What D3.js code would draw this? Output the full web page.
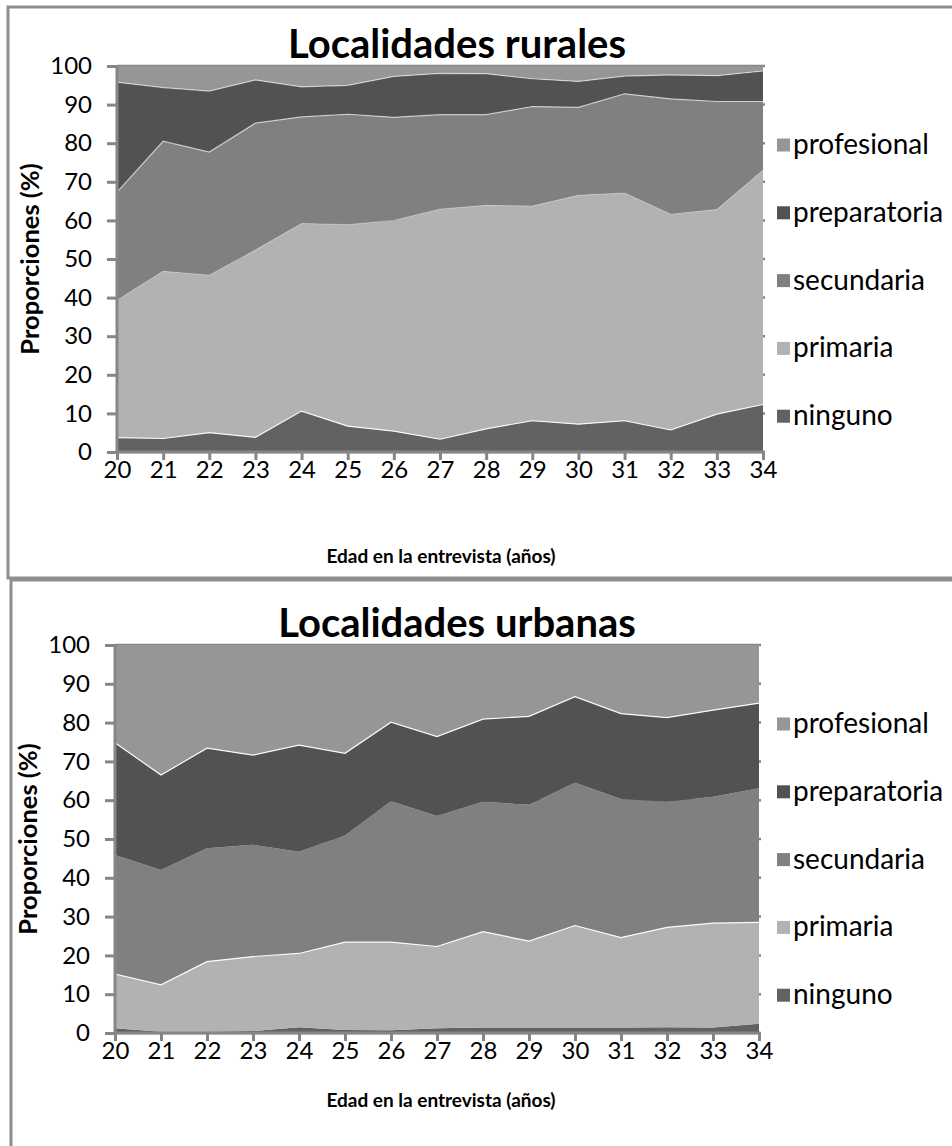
<!DOCTYPE html>
<html>
<head>
<meta charset="utf-8">
<script src="https://cdn.jsdelivr.net/npm/d3@7"></script>
<style>
  body { margin: 0; background: #fff; }
  svg { display: block; }
  text { font-family: Lato, "Open Sans", sans-serif; fill: #000; }
</style>
</head>
<body>
<svg id="chart" width="952" height="1146"></svg>
<script>
// Age at interview (years)
const ages = [20, 21, 22, 23, 24, 25, 26, 27, 28, 29, 30, 31, 32, 33, 34];
const yTicks = [0, 10, 20, 30, 40, 50, 60, 70, 80, 90, 100];

// Education levels, stacked bottom to top
const levels = ["ninguno", "primaria", "secundaria", "preparatoria", "profesional"];
const legendOrder = ["profesional", "preparatoria", "secundaria", "primaria", "ninguno"];

// Rural localities, % by level
const ruralNinguno      = [3.7, 3.5, 5.0, 3.8, 10.6, 6.7, 5.4, 3.3, 6.0, 8.1, 7.2, 8.1, 5.7, 9.8, 12.3];
const ruralPrimaria     = [35.6, 43.3, 40.8, 48.5, 48.6, 52.2, 54.6, 59.6, 57.9, 55.6, 59.3, 59.0, 55.9, 53.0, 60.7];
const ruralSecundaria   = [28.0, 33.7, 31.9, 32.9, 27.6, 28.6, 26.7, 24.5, 23.5, 25.8, 22.8, 25.7, 29.9, 28.0, 17.8];
const ruralPreparatoria = [28.5, 13.9, 15.8, 11.2, 7.8, 7.5, 10.6, 10.7, 10.6, 7.2, 6.7, 4.6, 6.2, 6.7, 7.9];
const ruralProfesional  = [4.2, 5.6, 6.5, 3.6, 5.4, 5.0, 2.7, 1.9, 2.0, 3.3, 4.0, 2.6, 2.3, 2.5, 1.3];

// Urban localities, % by level
const urbanNinguno      = [1.2, 0.3, 0.3, 0.5, 1.5, 0.8, 0.7, 1.2, 1.4, 1.4, 1.4, 1.4, 1.5, 1.4, 2.4];
const urbanPrimaria     = [14.0, 12.1, 18.1, 19.2, 19.0, 22.6, 22.7, 21.1, 24.7, 22.3, 26.3, 23.2, 25.7, 26.9, 26.1];
const urbanSecundaria   = [30.7, 29.6, 29.2, 28.8, 26.2, 27.5, 36.3, 33.6, 33.5, 35.1, 36.8, 35.7, 32.4, 32.6, 34.6];
const urbanPreparatoria = [28.9, 24.5, 25.8, 23.1, 27.5, 21.2, 20.4, 20.5, 21.3, 22.8, 22.2, 22.0, 21.7, 22.3, 21.9];
const urbanProfesional  = [25.2, 33.5, 26.6, 28.4, 25.8, 27.9, 19.9, 23.6, 19.1, 18.4, 13.3, 17.7, 18.7, 16.8, 15.0];

const colors = {
  ninguno: "#626262",
  primaria: "#b2b2b2",
  secundaria: "#808080",
  preparatoria: "#525252",
  profesional: "#969696"
};
const axisColor = "#868686";

function rows(n, p, s, pr, pf) {
  return ages.map((age, i) => ({
    age, ninguno: n[i], primaria: p[i], secundaria: s[i], preparatoria: pr[i], profesional: pf[i]
  }));
}

const panels = [
  {
    title: "Localidades rurales",
    data: rows(ruralNinguno, ruralPrimaria, ruralSecundaria, ruralPreparatoria, ruralProfesional),
    frame: { x: 8, y: 7, w: 970, h: 571 },
    plot: { x0: 117, x1: 763, y0: 66, y1: 452 },
    titleY: 58,
    xTitleY: 563,
    legendY: 145,
    edges: { ninguno: 0.9, primaria: 0.25, secundaria: 0.6, preparatoria: 0.55 }
  },
  {
    title: "Localidades urbanas",
    data: rows(urbanNinguno, urbanPrimaria, urbanSecundaria, urbanPreparatoria, urbanProfesional),
    frame: { x: 11, y: 580, w: 970, h: 600 },
    plot: { x0: 115, x1: 759, y0: 645, y1: 1033 },
    titleY: 637,
    xTitleY: 1107,
    legendY: 724,
    edges: { ninguno: 0.0, primaria: 0.95, secundaria: 0.0, preparatoria: 0.95 }
  }
];

const svg = d3.select("#chart");

panels.forEach(panel => {
  const { plot, frame } = panel;
  const g = svg.append("g");

  // chart border
  g.append("rect")
    .attr("x", frame.x).attr("y", frame.y)
    .attr("width", frame.w).attr("height", frame.h)
    .attr("fill", "none").attr("stroke", "#8e8e8e").attr("stroke-width", 3);

  const x = d3.scaleLinear().domain([ages[0], ages[ages.length - 1]]).range([plot.x0, plot.x1]);
  const y = d3.scaleLinear().domain([0, 100]).range([plot.y1, plot.y0]);

  // horizontal gridlines behind the areas
  g.append("g").selectAll("line").data(yTicks).join("line")
    .attr("x1", plot.x0).attr("x2", plot.x1 + 2)
    .attr("y1", d => y(d)).attr("y2", d => y(d))
    .attr("stroke", axisColor).attr("stroke-width", 2.5);

  const series = d3.stack().keys(levels)(panel.data);

  const area = d3.area()
    .x(d => x(d.data.age))
    .y0(d => y(d[0]))
    .y1(d => y(d[1]));

  g.append("g").selectAll("path").data(series).join("path")
    .attr("d", area)
    .attr("fill", d => colors[d.key]);

  // light seams along the upper edge of each band
  const edge = d3.line().x(d => x(d.data.age)).y(d => y(d[1]));
  g.append("g").selectAll("path")
    .data(series.filter(s => panel.edges[s.key] > 0))
    .join("path")
    .attr("d", edge)
    .attr("fill", "none")
    .attr("stroke", "#fff")
    .attr("stroke-opacity", d => panel.edges[d.key])
    .attr("stroke-width", 1.2);

  // y axis
  const yAxis = d3.axisLeft(y).tickValues(yTicks).tickSize(10).tickPadding(15);
  const ya = g.append("g").attr("transform", `translate(${plot.x0},0)`).call(yAxis);
  ya.select(".domain").attr("stroke", axisColor).attr("stroke-width", 3)
    .attr("d", `M0,${plot.y0 - 1}V${plot.y1 + 1}`);
  ya.selectAll(".tick line").attr("stroke", axisColor).attr("stroke-width", 3);
  ya.selectAll(".tick text").attr("font-size", 24).attr("font-family", "Lato").attr("fill", "#000");

  // x axis
  const xAxis = d3.axisBottom(x).tickValues(ages).tickFormat(d3.format("d")).tickSize(8).tickPadding(1);
  const xa = g.append("g").attr("transform", `translate(0,${plot.y1})`).call(xAxis);
  xa.select(".domain").attr("stroke", axisColor).attr("stroke-width", 3)
    .attr("d", `M${plot.x0 - 1},0H${plot.x1 + 1}`);
  xa.selectAll(".tick line").attr("stroke", axisColor).attr("stroke-width", 3);
  xa.selectAll(".tick text").attr("font-size", 24).attr("font-family", "Lato").attr("fill", "#000");

  // title
  g.append("text")
    .attr("x", 457).attr("y", panel.titleY)
    .attr("text-anchor", "middle")
    .attr("font-size", 40).attr("font-weight", "bold")
    .text(panel.title);

  // axis titles
  g.append("text")
    .attr("x", 441).attr("y", panel.xTitleY)
    .attr("text-anchor", "middle")
    .attr("font-size", 19).attr("font-weight", "bold")
    .text("Edad en la entrevista (años)");

  g.append("text")
    .attr("transform", `translate(${plot.x0 - 78},${(plot.y0 + plot.y1) / 2}) rotate(-90)`)
    .attr("text-anchor", "middle")
    .attr("font-size", 25.5).attr("font-weight", "bold")
    .text("Proporciones (%)");

  // legend
  const lg = g.append("g").attr("transform", `translate(777,${panel.legendY})`);
  const item = lg.selectAll("g").data(legendOrder).join("g")
    .attr("transform", (d, i) => `translate(0,${i * 67.8})`);
  item.append("rect")
    .attr("x", 0).attr("y", -6.5).attr("width", 13).attr("height", 13)
    .attr("fill", d => colors[d]);
  item.append("text")
    .attr("x", 16).attr("y", 9)
    .attr("font-size", 28)
    .text(d => d);
});
</script>
</body>
</html>
